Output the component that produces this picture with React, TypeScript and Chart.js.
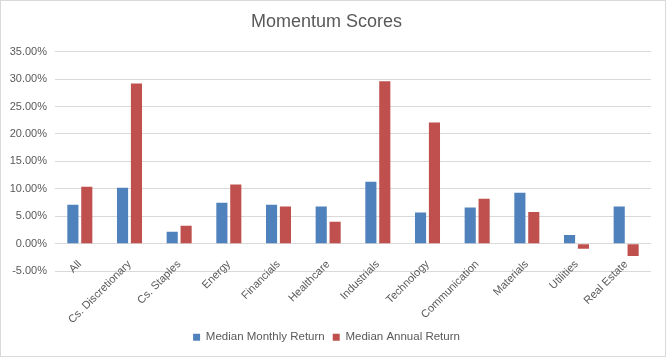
import React, { useEffect, useRef } from "react";
import { Chart, registerables } from "chart.js";

Chart.register(...registerables);

const categories = [
  "All",
  "Cs. Discretionary",
  "Cs. Staples",
  "Energy",
  "Financials",
  "Healthcare",
  "Industrials",
  "Technology",
  "Communication",
  "Materials",
  "Utilities",
  "Real Estate",
];
const monthlyReturn = [7.1, 10.2, 2.2, 7.5, 7.1, 6.8, 11.3, 5.7, 6.6, 9.3, 1.6, 6.8];
const annualReturn = [10.4, 29.2, 3.3, 10.8, 6.8, 4.0, 29.6, 22.1, 8.2, 5.8, -0.9, -2.2];
const seriesNames = ["Median Monthly Return", "Median Annual Return"];
const colors = ["#4f81bd", "#c0504d"];

const FONT = "'Liberation Sans', Arial, sans-serif";

export default function App() {
  const ref = useRef<HTMLCanvasElement | null>(null);
  useEffect(() => {
    document.body.style.margin = "0";
    if (!ref.current) return;
    const chart = new Chart(ref.current, {
      type: "bar",
      data: {
        labels: categories,
        datasets: [
          {
            label: seriesNames[0],
            data: monthlyReturn,
            backgroundColor: colors[0],
            categoryPercentage: 0.56,
            barPercentage: 0.8,
          },
          {
            label: seriesNames[1],
            data: annualReturn,
            backgroundColor: colors[1],
            categoryPercentage: 0.56,
            barPercentage: 0.8,
          },
        ],
      },
      options: {
        animation: false,
        responsive: false,
        layout: { padding: { left: 2, right: 15, top: 5, bottom: 4 } },
        plugins: {
          title: {
            display: true,
            text: "Momentum Scores",
            color: "#595959",
            font: { family: FONT, size: 18, weight: "normal" },
            padding: { top: 6, bottom: 19 },
          },
          legend: {
            position: "bottom",
            title: {
              display: true,
              text: " ",
              font: { family: FONT, size: 11 },
              padding: { top: 0, bottom: 39 },
            },
            labels: {
              boxWidth: 7,
              boxHeight: 7,
              color: "#595959",
              font: { family: FONT, size: 11.5 },
              padding: 8,
            },
          },
          tooltip: { enabled: false },
        },
        scales: {
          x: {
            position: { y: 0 },
            grid: { display: false },
            border: { display: false },
            ticks: {
              color: "#595959",
              font: { family: FONT, size: 11 },
              maxRotation: 45,
              minRotation: 45,
              autoSkip: false,
              padding: 6,
            },
          },
          y: {
            min: -5,
            max: 35,
            grid: { color: "#d9d9d9", drawTicks: false },
            border: { display: false },
            afterFit: (s: any) => {
              s.width = 53;
            },
            ticks: {
              stepSize: 5,
              color: "#595959",
              font: { family: FONT, size: 11 },
              padding: 8,
              callback: (v: any) => Number(v).toFixed(2) + "%",
            },
          },
        },
      },
    });
    return () => chart.destroy();
  }, []);
  return (
    <div style={{ position: "relative", width: 666, height: 357 }}>
      <canvas ref={ref} width={666} height={357} />
      <div
        style={{
          position: "absolute",
          left: 0,
          top: 0,
          width: 664,
          height: 355,
          border: "1px solid #d9d9d9",
          pointerEvents: "none",
        }}
      />
    </div>
  );
}
